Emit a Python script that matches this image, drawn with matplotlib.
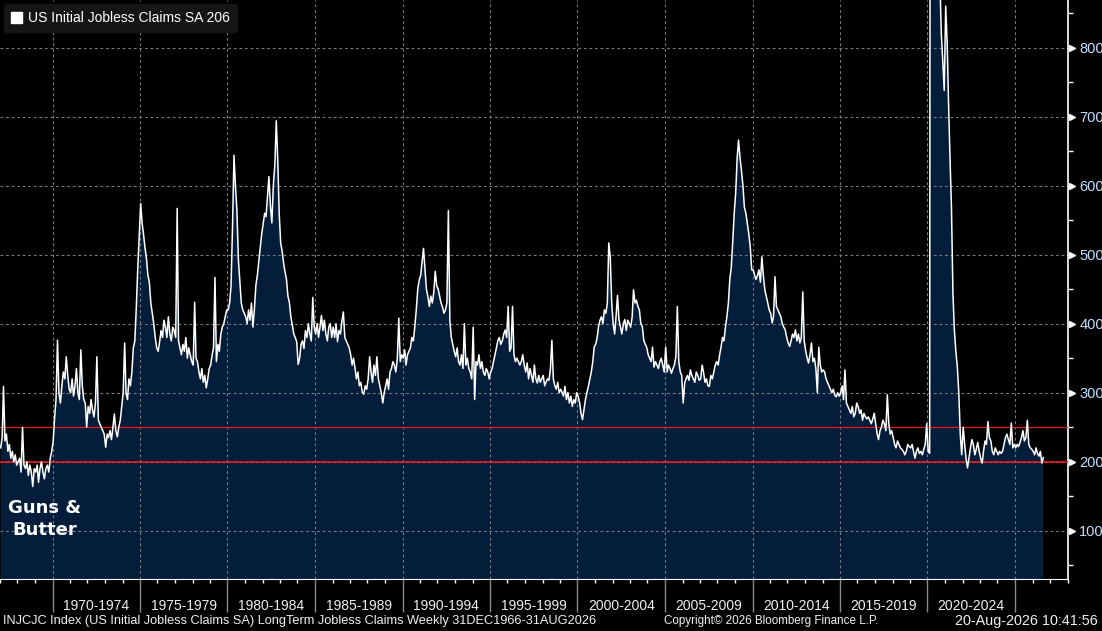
import numpy as np
import pandas as pd
import matplotlib
matplotlib.use("Agg")
import matplotlib.pyplot as plt
import matplotlib.dates as mdates
import matplotlib.transforms as mtransforms
from matplotlib.patches import Patch

# monthly readings of US initial jobless claims (thousands), Jan 1967 .. Aug 2026
claims_1960s = [220, 235, 309, 230, 240, 215, 225, 205, 215, 200, 210, 195,
                200, 205, 185, 250, 195, 190, 200, 180, 195, 185, 164, 190,
                185, 195, 170, 190, 200, 185, 175, 190, 195, 185, 205, 215]
claims_1970s = [230, 265, 290, 376, 300, 285, 310, 330, 320, 352, 325, 305,
                300, 320, 295, 310, 335, 300, 290, 362, 310, 290, 285, 250,
                280, 270, 290, 275, 265, 285, 352, 260, 255, 250, 245, 240,
                221, 240, 235, 245, 232, 250, 269, 245, 236, 250, 260, 280,
                300, 372, 300, 290, 320, 310, 330, 365, 375, 422, 480, 527,
                574, 545, 530, 510, 495, 470, 460, 430, 415, 400, 380, 365,
                360, 374, 390, 380, 405, 395, 380, 410, 385, 375, 395, 390,
                380, 567, 375, 365, 355, 370, 360, 380, 350, 365, 355, 345,
                340, 431, 350, 345, 330, 320, 335, 315, 325, 307, 320, 335,
                340, 355, 365, 467, 345, 370, 360, 385, 395, 400, 410, 420]
claims_1980s = [420, 430, 455, 540, 644, 600, 565, 493, 460, 430, 420, 415,
                410, 400, 420, 405, 430, 395, 420, 455, 470, 490, 510, 530,
                545, 560, 555, 585, 613, 570, 546, 600, 630, 694, 637, 560,
                517, 505, 489, 475, 465, 440, 431, 410, 398, 385, 380, 374,
                341, 350, 370, 375, 364, 390, 380, 400, 385, 375, 438, 395,
                385, 400, 380, 395, 412, 390, 405, 385, 375, 395, 400, 380,
                395, 380, 400, 374, 390, 385, 403, 417, 380, 375, 370, 365,
                355, 340, 350, 336, 320, 330, 310, 315, 300, 298, 310, 305,
                320, 352, 330, 315, 340, 325, 352, 320, 310, 300, 285, 300,
                310, 320, 305, 330, 335, 345, 340, 330, 350, 408, 345, 355]
claims_1990s = [350, 362, 340, 355, 360, 365, 380, 375, 396, 420, 450, 463,
                470, 490, 509, 480, 450, 439, 425, 440, 430, 445, 476, 455,
                450, 440, 430, 424, 415, 420, 430, 564, 405, 380, 370, 360,
                352, 365, 345, 340, 355, 335, 400, 340, 350, 335, 330, 320,
                395, 290, 345, 340, 355, 335, 345, 330, 325, 335, 330, 320,
                330, 335, 345, 355, 365, 376, 380, 370, 375, 385, 391, 380,
                425, 360, 365, 425, 355, 345, 350, 345, 340, 345, 355, 340,
                330, 343, 320, 335, 325, 315, 340, 320, 314, 325, 315, 320,
                325, 310, 315, 320, 318, 335, 376, 320, 310, 305, 315, 300,
                305, 300, 295, 309, 290, 300, 285, 295, 280, 290, 285, 300]
claims_2000s = [295, 285, 270, 261, 275, 290, 300, 309, 320, 330, 345, 366,
                370, 380, 396, 405, 410, 400, 420, 415, 430, 517, 496, 430,
                400, 385, 410, 441, 406, 395, 385, 400, 406, 390, 405, 400,
                395, 410, 449, 430, 434, 425, 420, 400, 396, 376, 370, 366,
                355, 350, 345, 366, 337, 345, 340, 335, 345, 350, 340, 330,
                366, 330, 340, 335, 328, 335, 340, 352, 425, 345, 330, 325,
                285, 314, 320, 325, 318, 333, 325, 320, 315, 330, 325, 318,
                320, 340, 330, 315, 320, 310, 309, 325, 320, 330, 340, 345,
                340, 355, 366, 380, 375, 395, 410, 430, 465, 482, 520, 560,
                590, 641, 666, 640, 622, 600, 569, 560, 545, 530, 511, 478]
claims_2010s = [478, 470, 464, 470, 478, 460, 497, 470, 449, 440, 430, 420,
                415, 401, 410, 468, 425, 420, 415, 410, 400, 395, 391, 380,
                372, 367, 375, 385, 380, 391, 375, 385, 372, 380, 446, 375,
                360, 350, 343, 355, 372, 345, 350, 335, 300, 366, 340, 330,
                333, 330, 320, 315, 310, 305, 300, 305, 296, 294, 300, 295,
                300, 310, 290, 333, 285, 280, 275, 270, 280, 265, 270, 285,
                280, 270, 275, 260, 270, 265, 262, 265, 260, 255, 262, 270,
                255, 240, 232, 245, 250, 260, 255, 245, 297, 255, 240, 245,
                235, 225, 220, 230, 225, 220, 218, 215, 210, 215, 225, 222,
                220, 225, 215, 205, 215, 220, 212, 215, 210, 218, 225, 255]
claims_2020s = [215, 212, 2900, 4200, 2100, 1450, 1350, 1050, 900, 820, 780, 738,
                860, 806, 720, 640, 569, 444, 390, 360, 337, 300, 240, 210,
                250, 225, 205, 191, 205, 220, 232, 225, 210, 218, 228, 215,
                205, 198, 215, 230, 225, 258, 235, 230, 215, 210, 220, 215,
                210, 215, 212, 215, 225, 235, 240, 232, 225, 256, 220, 225,
                220, 225, 222, 228, 235, 245, 230, 235, 260, 225, 220, 218,
                215, 210, 220, 212, 208, 215, 198, 206]

period_labels = ["1970-1974", "1975-1979", "1980-1984", "1985-1989", "1990-1994",
                 "1995-1999", "2000-2004", "2005-2009", "2010-2014", "2015-2019",
                 "2020-2024"]
period_starts = list(range(1970, 2030, 5))
ref_levels = [200, 250]

claims = np.array(claims_1960s + claims_1970s + claims_1980s + claims_1990s
                  + claims_2000s + claims_2010s + claims_2020s, dtype=float)
dates = pd.date_range("1967-01-01", periods=len(claims), freq="MS") + pd.Timedelta(days=14)

fig = plt.figure(figsize=(11.02, 6.31), dpi=100, facecolor="black")
ax = fig.add_axes([0, 1 - 579 / 631, 1067.5 / 1102, 579 / 631])
ax.set_facecolor("black")

ax.fill_between(dates, claims, 0, color="#041d3a", lw=0, zorder=1)
ax.plot(dates, claims, color="white", lw=1.1, zorder=3)
ax.axhline(ref_levels[0], color="#ff1a1a", lw=1.1, zorder=2.8)
ax.axhline(ref_levels[1], color="#e81818", lw=0.9, zorder=2.8)

ax.set_ylim(30, 869)
ax.set_xlim(pd.Timestamp("1967-01-01"), pd.Timestamp("2028-01-01"))

# grid
for yv in range(100, 900, 100):
    ax.axhline(yv, color="#7a7a7a", lw=0.8, ls=(0, (2.5, 2.5)), zorder=2)
for yr in period_starts:
    ax.axvline(pd.Timestamp(f"{yr}-01-01"), color="#7a7a7a", lw=0.8, ls=(0, (2.5, 2.5)), zorder=2)

# spines
for s in ["top", "left"]:
    ax.spines[s].set_visible(False)
ax.spines["bottom"].set_color("white")
ax.spines["right"].set_color("white")
ax.spines["right"].set_linewidth(1.2)

# y axis on the right
ax.yaxis.tick_right()
ax.set_yticks(range(100, 900, 100))
ax.set_yticks(range(50, 900, 100), minor=True)
ax.tick_params(axis="y", which="major", length=0, pad=8.5, labelcolor="#c4e0ff",
               labelsize=10.5)
ax.tick_params(axis="y", which="minor", length=3.5, width=1, color="white", direction="out")
for lab in ax.get_yticklabels():
    lab.set_fontfamily("Liberation Sans")
tri = mtransforms.blended_transform_factory(ax.transAxes, ax.transData)
ax.plot([1.0045] * 8, list(range(100, 900, 100)), marker=">", ms=5, color="white",
        ls="none", transform=tri, clip_on=False, zorder=5)

# x axis
ax.xaxis.set_major_locator(mdates.YearLocator(5))
ax.xaxis.set_minor_locator(mdates.YearLocator(1))
ax.tick_params(axis="x", which="major", length=24, width=1, color="#8a8a8a",
               labelbottom=False)
ax.tick_params(axis="x", which="minor", length=3, width=1, color="white")
xt = mtransforms.blended_transform_factory(ax.transData, ax.transAxes)
for yr, lab in zip(period_starts, period_labels):
    mid = pd.Timestamp(f"{yr}-01-01") + (pd.Timestamp(f"{yr + 5}-01-01") - pd.Timestamp(f"{yr}-01-01")) / 2
    ax.text(mdates.date2num(mid), -27 / 579, lab, transform=xt, ha="center", va="center",
            color="#f0f0f0", fontsize=10, family="Liberation Sans")

# legend
leg = ax.legend(handles=[Patch(facecolor="white", edgecolor="white")],
                labels=["US Initial Jobless Claims SA 206"], loc="upper left",
                bbox_to_anchor=(0.0, 1.0), borderaxespad=0.3, frameon=True, fancybox=True,
                facecolor="#151515", edgecolor="#151515", framealpha=1,
                handlelength=0.8, handleheight=0.8, handletextpad=0.4,
                borderpad=0.5, prop={"family": "Liberation Sans", "size": 10})
for t in leg.get_texts():
    t.set_color("white")

ax.text(0.042, 0.104, "Guns &\nButter", transform=ax.transAxes, ha="center", va="center",
        color="white", fontsize=13, fontweight="bold", family="DejaVu Sans",
        linespacing=1.25, zorder=6)

# footer
fig.text(0.003, 10 / 631, "INJCJC Index (US Initial Jobless Claims SA) LongTerm Jobless Claims Weekly 31DEC1966-31AUG2026",
         color="#f0f0f0", fontsize=9.2, family="Liberation Sans", ha="left", va="center")
fig.text(664 / 1102, 10 / 631, "Copyright\u00a9 2026 Bloomberg Finance L.P.",
         color="#f0f0f0", fontsize=8.4, family="Liberation Sans", ha="left", va="center")
fig.text(1098 / 1102, 10 / 631, "20-Aug-2026 10:41:56",
         color="#f0f0f0", fontsize=10.4, family="Liberation Sans", ha="right", va="center")

fig.savefig("out.png", dpi=100, facecolor="black")
